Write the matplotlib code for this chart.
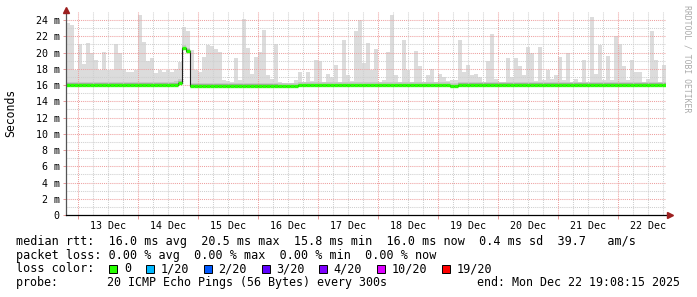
#!/usr/bin/env python3
"""SmokePing style latency graph (10 days, median rtt + smoke)."""
import matplotlib
matplotlib.use('Agg')
import matplotlib.pyplot as plt
from matplotlib.patches import Rectangle

plt.rcParams['font.family'] = ['DejaVu Sans Mono']

# ── Data ──────────────────────────────────────────────────────────
# time in hours since 13 Dec 00:00, graph window 12 Dec 19:08 .. 22 Dec 19:08
t_start = -4.87
t_end = 235.13
bin_hours = 1.6

# max rtt of the 20 pings per bin (ms)
smoke_max = [
    23.6, 23.4, 17.8, 21.1, 18.6, 21.2, 19.9, 19.1, 17.8, 20.1,
    17.9, 17.8, 21.0, 19.9, 18.0, 17.6, 17.6, 17.8, 24.6, 21.3,
    19.0, 19.3, 17.5, 17.9, 17.6, 17.8, 17.6, 18.0, 18.8, 23.1,
    22.6, 20.3, 17.9, 17.6, 19.5, 20.9, 20.8, 20.4, 20.1, 16.6,
    16.5, 16.4, 19.3, 16.6, 24.1, 20.5, 17.4, 19.5, 20.1, 22.8,
    17.2, 16.8, 21.1, 16.4, 16.2, 16.2, 16.3, 16.6, 17.6, 16.4,
    17.6, 16.5, 19.1, 18.9, 16.4, 17.4, 17.0, 18.5, 16.3, 21.6,
    17.2, 16.5, 22.6, 24.0, 18.7, 21.2, 17.8, 20.4, 16.4, 16.6,
    20.1, 24.6, 17.2, 16.4, 21.5, 17.8, 16.4, 20.2, 18.3, 16.4,
    17.2, 18.0, 16.4, 17.4, 17.0, 16.5, 16.6, 16.6, 21.5, 17.6,
    18.5, 17.2, 17.4, 17.0, 16.4, 18.9, 22.3, 16.8, 16.4, 16.4,
    19.3, 17.0, 19.3, 18.3, 17.2, 20.7, 19.9, 16.5, 20.7, 16.6,
    17.8, 16.8, 17.2, 19.4, 16.6, 20.0, 16.4, 16.8, 16.4, 19.1,
    16.4, 24.4, 17.4, 20.9, 16.6, 19.6, 16.6, 22.0, 21.1, 18.3,
    16.6, 19.1, 17.6, 17.6, 16.4, 16.8, 22.6, 19.1, 16.4, 18.5,
]

# median rtt per bin (ms)
median_rtt = [
    16.0, 16.0, 16.0, 16.0, 16.0, 16.0, 16.0, 16.0, 16.0, 16.0,
    16.0, 16.0, 16.0, 16.0, 16.0, 16.0, 16.0, 16.0, 16.0, 16.0,
    16.0, 16.0, 16.0, 16.0, 16.0, 16.0, 16.0, 16.05, 16.3, 20.5,
    20.2, 15.9, 15.9, 15.9, 15.9, 15.9, 15.9, 15.9, 15.9, 15.9,
    15.9, 15.9, 15.9, 15.9, 15.9, 15.9, 15.9, 15.9, 15.9, 15.9,
    15.9, 15.9, 15.9, 15.85, 15.85, 15.85, 15.85, 15.85, 15.95, 15.95,
    15.95, 15.95, 15.95, 15.95, 15.95, 15.95, 15.95, 15.95, 15.95, 15.95,
    15.95, 15.95, 15.95, 15.95, 15.95, 15.95, 15.95, 15.95, 15.95, 15.95,
    15.95, 15.95, 15.95, 15.95, 15.95, 15.95, 15.95, 15.95, 15.95, 15.95,
    15.95, 15.95, 15.95, 15.95, 15.95, 15.95, 15.85, 15.85, 16.0, 16.0,
    16.0, 16.0, 16.0, 16.0, 16.0, 16.0, 16.0, 16.0, 16.0, 16.0,
    16.0, 16.0, 16.0, 16.0, 16.0, 16.0, 16.0, 16.0, 16.0, 16.0,
    16.0, 16.0, 16.0, 16.0, 16.0, 16.0, 16.0, 16.0, 16.0, 16.0,
    16.0, 16.0, 16.0, 16.0, 16.0, 16.0, 16.0, 16.0, 16.0, 16.0,
    16.0, 16.0, 16.0, 16.0, 16.0, 16.0, 16.0, 16.0, 16.0, 16.0,
]

day_labels = ['13 Dec', '14 Dec', '15 Dec', '16 Dec', '17 Dec',
              '18 Dec', '19 Dec', '20 Dec', '21 Dec', '22 Dec']
y_ticks = [0, 2, 4, 6, 8, 10, 12, 14, 16, 18, 20, 22, 24]
y_labels = ['0', '2 m', '4 m', '6 m', '8 m', '10 m', '12 m', '14 m',
            '16 m', '18 m', '20 m', '22 m', '24 m']

loss_labels = ['0', '1/20', '2/20', '3/20', '4/20', '10/20', '19/20']
loss_colors = ['#26ff00', '#00b8ff', '#0059ff', '#5e00ff', '#7e00ff',
               '#dd00ff', '#ff0000']

stats_rtt = 'median rtt:  16.0 ms avg  20.5 ms max  15.8 ms min  16.0 ms now  0.4 ms sd  39.7   am/s'
stats_loss = 'packet loss: 0.00 % avg  0.00 % max  0.00 % min  0.00 % now'
probe_txt = 'probe:       20 ICMP Echo Pings (56 Bytes) every 300s'
end_txt = 'end: Mon Dec 22 19:08:15 2025'

# ── Figure ────────────────────────────────────────────────────────
W, H = 697, 297
fig = plt.figure(figsize=(W / 100, H / 100), dpi=100)
ax = fig.add_axes([65.8 / W, 82 / H, 600 / W, 203.1 / H])

n = len(smoke_max)
t_left = [t_start + i * bin_hours for i in range(n)]
t_right = [t + bin_hours for t in t_left]
edges = t_left + [t_right[-1]]

# smoke: light grey for the whole spread, darker close to the median
smoke_lo = [m - 0.25 for m in median_rtt]
ax.bar(t_left, [hi - lo for hi, lo in zip(smoke_max, smoke_lo)], bottom=smoke_lo,
       width=bin_hours, align='edge', color='#dcdcdc', lw=0, zorder=1)
ax.bar(t_left, 0.6, bottom=[m - 0.2 for m in median_rtt], width=bin_hours,
       align='edge', color='#c8c8c8', lw=0, zorder=1.2)
ax.bar(t_left, 0.3, bottom=[m - 0.1 for m in median_rtt], width=bin_hours,
       align='edge', color='#ababab', lw=0, zorder=1.3)

# grid (dotted, rrdtool like)
dot = (0, (1, 1))
for v in range(1, 25):
    col = '#eea0a0' if v % 2 == 0 else '#cfcfcf'
    ax.axhline(v, color=col, ls=dot, lw=0.75, zorder=2)
for h in range(0, 236, 6):
    col = '#eea0a0' if h % 24 == 0 else '#cfcfcf'
    ax.axvline(h, color=col, ls=dot, lw=0.75, zorder=2)

# median line: thin dark step + green (0 loss) segments
ax.stairs(median_rtt, edges, baseline=None, color='#202020', lw=0.8, zorder=3)
ax.hlines(median_rtt, t_left, t_right, color=loss_colors[0], lw=2.4, zorder=4)

ax.set_xlim(t_start, t_end)
ax.set_ylim(0, 25)

ax.set_yticks(y_ticks, y_labels)
ax.tick_params(axis='y', length=2.5, width=0.7, color='#e89a9a', pad=2,
               labelsize=7.2)
ax.set_xticks([12 + 24 * i for i in range(len(day_labels))], day_labels)
ax.tick_params(axis='x', length=0, pad=4, labelsize=7.2)
ax.set_xticks(list(range(0, 236, 24)), minor=True)
ax.tick_params(axis='x', which='minor', length=3, width=0.7, color='#e89a9a')

for s in ['top', 'right']:
    ax.spines[s].set_visible(False)
ax.spines['left'].set_color('#555555')
ax.spines['bottom'].set_color('#000000')
ax.spines['left'].set_linewidth(0.9)
ax.spines['bottom'].set_linewidth(0.9)
ax.spines['left'].set_zorder(5)
ax.spines['bottom'].set_zorder(5)

# axis arrows
ax.plot([0], [1.008], marker='^', ms=4.5, color='#9c1f1f', transform=ax.transAxes,
        clip_on=False, zorder=6)
ax.plot([1.007], [0], marker='>', ms=4.5, color='#9c1f1f', transform=ax.transAxes,
        clip_on=False, zorder=6)

fig.text(11 / W, 1 - 113 / H, 'Seconds', rotation=90, ha='center', va='center',
         fontsize=8.3)
fig.text(686.5 / W, 1 - 5 / H, 'RRDTOOL / TOBI OETIKER', rotation=270,
         ha='center', va='top', fontsize=5.9, color='#aaaaaa')

# ── Legend / stats ────────────────────────────────────────────────
fs = 8.5
x0 = 16.5 / W
fig.text(x0, 1 - 245 / H, stats_rtt, fontsize=fs, va='baseline')
fig.text(x0, 1 - 258.7 / H, stats_loss, fontsize=fs, va='baseline')
fig.text(x0, 1 - 272.4 / H, 'loss color:', fontsize=fs, va='baseline')
fig.text(x0, 1 - 286.1 / H, probe_txt, fontsize=8.4, va='baseline')
fig.text(680 / W, 1 - 286.1 / H, end_txt, fontsize=8.4, va='baseline', ha='right')

box_x = [108.5, 145.7, 203.7, 262, 319.3, 377.3, 441.7]
lab_x = [124, 160.7, 218.3, 276, 333.3, 391.7, 456.7]
for bx, lx, lab, col in zip(box_x, lab_x, loss_labels, loss_colors):
    fig.patches.append(Rectangle((bx / W, 1 - 273.3 / H), 8 / W, 8 / H,
                                 transform=fig.transFigure, facecolor=col,
                                 edgecolor='black', lw=0.7))
    fig.text(lx / W, 1 - 272.4 / H, lab, fontsize=fs, va='baseline')

plt.savefig('out.png', dpi=100)
plt.close()
